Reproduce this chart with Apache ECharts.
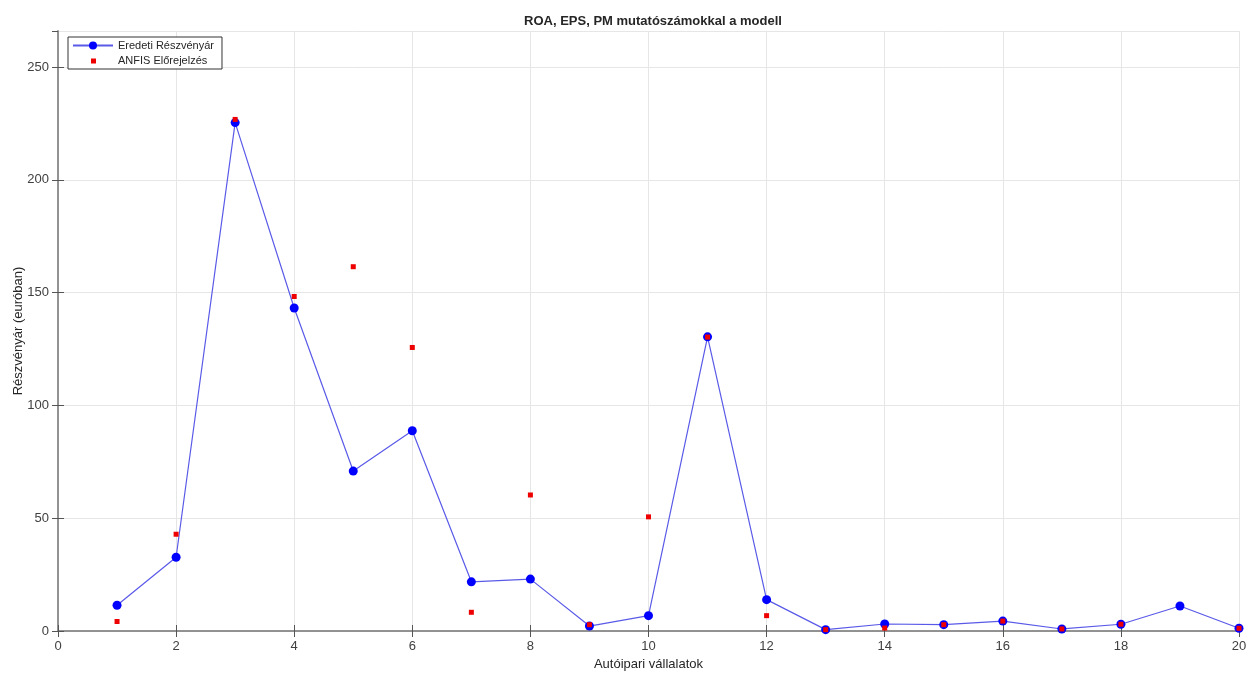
<!DOCTYPE html>
<html>
<head>
<meta charset="utf-8">
<script src="https://cdn.jsdelivr.net/npm/echarts@6/dist/echarts.min.js"></script>
<style>
  html, body { margin: 0; padding: 0; background: #fff; }
  #chart { width: 1249px; height: 673px; }
</style>
</head>
<body>
<div id="chart"></div>
<script>
// cégek sorszáma (1..20)
const companies = [1, 2, 3, 4, 5, 6, 7, 8, 9, 10, 11, 12, 13, 14, 15, 16, 17, 18, 19, 20];
// eredeti részvényár
const actualPrice = [11.4, 32.7, 225.4, 143.2, 70.9, 88.8, 21.8, 23.0, 2.2, 6.8,
  130.4, 13.9, 0.6, 3.1, 2.8, 4.4, 0.9, 3.0, 11.1, 1.2];
// ANFIS előrejelzés (19-nél nem látszik pont)
const anfisPrice = [4.2, 42.9, 226.8, 148.3, 161.5, 125.7, 8.3, 60.3, 2.8, 50.6,
  130.3, 6.8, 0.6, 1.3, 2.8, 4.4, 0.9, 3.0, null, 1.2];

const font = "'Liberation Sans', Arial, sans-serif";
const axisColor = "#8c8c8c";
const labelColor = "#404040";

const chart = echarts.init(document.getElementById("chart"));

function pairs(vals) {
  return companies.map((c, i) => [c, vals[i]]);
}

// kis négyzet a jelmagyarázatba, a teljes ikon-dobozban középre téve
const smallSquare = "path://M0,0M40,10M18,3L23,3L23,8L18,8Z";

const option = {
  animation: false,
  backgroundColor: "#fff",
  textStyle: { fontFamily: font },
  title: {
    text: "ROA, EPS, PM mutatószámokkal a modell",
    left: 648,
    textAlign: "center",
    top: 10,
    textStyle: { fontSize: 13, fontWeight: "bold", color: "#262626", fontFamily: font }
  },
  grid: { left: 58, right: 10, top: 31, bottom: 42, containLabel: false, outerBoundsMode: "none" },
  legend: {
    left: 68,
    top: 37,
    orient: "vertical",
    backgroundColor: "#fff",
    borderColor: "#333",
    borderWidth: 1,
    borderRadius: 0,
    padding: [3, 8, 3, 4],
    itemGap: 4,
    itemWidth: 40,
    itemHeight: 10,
    textStyle: { fontSize: 11, color: "#262626", fontFamily: font },
    data: [
      { name: "Eredeti Részvényár" },
      { name: "ANFIS Előrejelzés", icon: smallSquare }
    ]
  },
  xAxis: [
    {
      type: "value",
      min: 0, max: 20, interval: 2,
      name: "Autóipari vállalatok",
      nameLocation: "middle",
      nameGap: 27,
      nameMoveOverlap: false,
      nameTextStyle: { fontSize: 13, color: "#262626" },
      axisLine: { lineStyle: { color: axisColor, width: 1.5 } },
      axisTick: { inside: true, length: 6, lineStyle: { color: "#555" } },
      axisLabel: { fontSize: 13, color: labelColor, margin: 9 },
      splitLine: { show: true, lineStyle: { color: "#e6e6e6" } }
    },
    {
      type: "value", position: "top",
      min: 0, max: 20, interval: 2,
      axisLine: { show: true, lineStyle: { color: axisColor, width: 1.5 } },
      axisTick: { inside: true, length: 6, lineStyle: { color: "#555" } },
      axisLabel: { show: false },
      splitLine: { show: false }
    }
  ],
  yAxis: [
    {
      type: "value",
      min: 0, max: 266, interval: 50,
      name: "Részvényár (euróban)",
      nameLocation: "middle",
      nameGap: 33,
      nameMoveOverlap: false,
      nameTextStyle: { fontSize: 13, color: "#262626" },
      axisLine: { show: true, lineStyle: { color: axisColor, width: 1.5 } },
      axisTick: { show: true, inside: true, length: 6, lineStyle: { color: "#555" } },
      axisLabel: { fontSize: 13, color: labelColor, margin: 9, showMaxLabel: false },
      splitLine: { show: true, lineStyle: { color: "#e6e6e6" } }
    },
    {
      type: "value", position: "right",
      min: 0, max: 266, interval: 50,
      axisLine: { show: true, lineStyle: { color: axisColor, width: 1.5 } },
      axisTick: { show: true, inside: true, length: 6, lineStyle: { color: "#555" } },
      axisLabel: { show: false },
      splitLine: { show: false }
    }
  ],
  series: [
    {
      name: "Eredeti Részvényár",
      type: "line",
      data: pairs(actualPrice),
      symbol: "circle",
      symbolSize: 9,
      showAllSymbol: true,
      lineStyle: { color: "#5a5ae8", width: 1.2 },
      itemStyle: { color: "#0000ff" },
      z: 2
    },
    {
      name: "ANFIS Előrejelzés",
      type: "scatter",
      data: pairs(anfisPrice),
      symbol: "rect",
      symbolSize: 5,
      itemStyle: { color: "#ee0000", opacity: 1 },
      z: 3
    }
  ]
};

chart.setOption(option);
</script>
</body>
</html>
